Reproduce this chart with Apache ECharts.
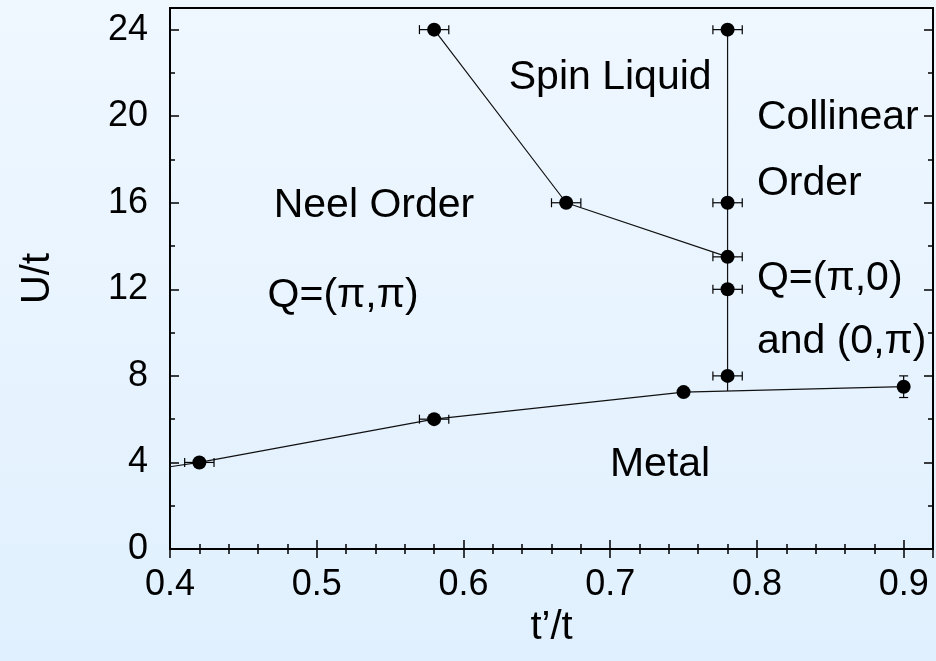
<!DOCTYPE html>
<html>
<head>
<meta charset="utf-8">
<script src="https://cdn.jsdelivr.net/npm/echarts@6/dist/echarts.min.js"></script>
<style>
  html, body { margin: 0; padding: 0; }
  #chart { width: 936px; height: 661px; }
</style>
</head>
<body>
<div id="chart"></div>
<script>
// Phase boundary points of the Hubbard model on the anisotropic lattice
const ptX  = [0.58, 0.67, 0.78, 0.78, 0.78, 0.78, 0.78, 0.42, 0.58, 0.75, 0.90];
const ptU  = [24,   16,   24,   16,   13.5, 12,   8,    4,    6,    7.25, 7.5];
const errX = [0.01, 0.01, 0.01, 0.01, 0.01, 0.01, 0.01, 0.01, 0.01, 0,    0];
const errU = [0,    0,    0,    0,    0,    0,    0,    0,    0,    0,    0.5];

// Boundary lines
const neelSpinX = [0.58, 0.67, 0.78];
const neelSpinU = [24, 16, 13.5];
const collinearX = [0.78, 0.78];
const collinearU = [24, 7.3];
const metalX = [0.40, 0.42, 0.58, 0.75, 0.90];
const metalU = [3.8, 4, 6, 7.25, 7.5];

// Phase names
const regionNames = ['Spin Liquid', 'Neel Order', 'Q=(\u03c0,\u03c0)', 'Collinear', 'Order', 'Q=(\u03c0,0)', 'and (0,\u03c0)', 'Metal'];
const regionX = [0.70, 0.539, 0.518, 0.80, 0.80, 0.80, 0.80, 0.734];
const regionU = [21.8, 15.85, 11.7, 19.95, 16.9, 12.5, 9.6, 3.9];
const regionAlign = ['center', 'center', 'center', 'left', 'left', 'left', 'left', 'center'];

const xTicks = [0.4, 0.5, 0.6, 0.7, 0.8, 0.9];
const uTicks = [0, 4, 8, 12, 16, 20, 24];

const FONT = 'Liberation Sans, Arial, Helvetica, sans-serif';
const X_MIN = 0.4, X_MAX = 0.92, U_MIN = 0, U_MAX = 25;

const zip = (xs, ys) => xs.map((x, i) => [x, ys[i]]);

function tickAxis(kind, position, interval, len, withLabels) {
  const isX = kind === 'x';
  return {
    type: 'value',
    position: position,
    min: isX ? X_MIN : U_MIN,
    max: isX ? X_MAX : U_MAX,
    interval: interval,
    axisLine: { show: false },
    axisTick: { show: true, inside: true, length: len, lineStyle: { color: '#000', width: 1.5 } },
    splitLine: { show: false },
    axisLabel: withLabels ? {
      show: true,
      color: '#000',
      fontFamily: FONT,
      fontSize: 36,
      margin: isX ? 18 : 22,
      showMaxLabel: false,
      formatter: v => {
        const ticks = isX ? xTicks : uTicks;
        const hit = ticks.find(t => Math.abs(t - v) < 1e-6);
        return hit === undefined ? '' : (isX ? hit.toFixed(1) : String(hit));
      }
    } : { show: false }
  };
}

const xAxes = [
  tickAxis('x', 'bottom', 0.1, 9, true),
  tickAxis('x', 'bottom', 0.02, 5, false),
  tickAxis('x', 'top', 0.1, 9, false),
  tickAxis('x', 'top', 0.02, 5, false)
];
Object.assign(xAxes[0], {
  name: 't\u2019/t', nameLocation: 'middle', nameGap: 57,
  nameTextStyle: { color: '#000', fontFamily: FONT, fontSize: 40 }
});

const yAxes = [
  tickAxis('y', 'left', 4, 9, true),
  tickAxis('y', 'left', 2, 5, false),
  tickAxis('y', 'right', 4, 9, false),
  tickAxis('y', 'right', 2, 5, false)
];
Object.assign(yAxes[0], {
  name: 'U/t', nameLocation: 'middle', nameGap: 112,
  nameTextStyle: { color: '#000', fontFamily: FONT, fontSize: 40 }
});

function boundary(xs, ys) {
  return {
    type: 'line',
    data: zip(xs, ys),
    symbol: 'none',
    lineStyle: { color: '#111', width: 1.2 },
    z: 2,
    silent: true,
    animation: false
  };
}

const errorBars = {
  type: 'custom',
  data: ptX.map((x, i) => [x, ptU[i], errX[i], errU[i]]),
  z: 3,
  animation: false,
  silent: true,
  renderItem: (params, api) => {
    const x = api.value(0), y = api.value(1), ex = api.value(2), ey = api.value(3);
    const children = [];
    const style = { stroke: '#000', lineWidth: 1.2 };
    const cap = 4.5;
    if (ex > 0) {
      const a = api.coord([x - ex, y]), b = api.coord([x + ex, y]);
      children.push({ type: 'line', shape: { x1: a[0], y1: a[1], x2: b[0], y2: b[1] }, style });
      children.push({ type: 'line', shape: { x1: a[0], y1: a[1] - cap, x2: a[0], y2: a[1] + cap }, style });
      children.push({ type: 'line', shape: { x1: b[0], y1: b[1] - cap, x2: b[0], y2: b[1] + cap }, style });
    }
    if (ey > 0) {
      const a = api.coord([x, y - ey]), b = api.coord([x, y + ey]);
      children.push({ type: 'line', shape: { x1: a[0], y1: a[1], x2: b[0], y2: b[1] }, style });
      children.push({ type: 'line', shape: { x1: a[0] - cap, y1: a[1], x2: a[0] + cap, y2: a[1] }, style });
      children.push({ type: 'line', shape: { x1: b[0] - cap, y1: b[1], x2: b[0] + cap, y2: b[1] }, style });
    }
    return { type: 'group', children };
  }
};

const points = {
  type: 'scatter',
  data: zip(ptX, ptU),
  symbol: 'circle',
  symbolSize: 14,
  itemStyle: { color: '#000', opacity: 1 },
  z: 4,
  animation: false,
  silent: true
};

const regionLabels = {
  type: 'scatter',
  data: regionNames.map((name, i) => ({
    value: [regionX[i], regionU[i]],
    label: { formatter: name, align: regionAlign[i] }
  })),
  symbolSize: 1,
  itemStyle: { color: 'rgba(0,0,0,0)', opacity: 1 },
  label: {
    show: true,
    position: 'inside',
    verticalAlign: 'middle',
    color: '#000',
    opacity: 1,
    fontFamily: FONT,
    fontSize: 41
  },
  z: 5,
  animation: false,
  silent: true
};

const chart = echarts.init(document.getElementById('chart'), null, { renderer: 'canvas' });
chart.setOption({
  animation: false,
  backgroundColor: {
    type: 'linear', x: 0, y: 0, x2: 0, y2: 1,
    colorStops: [{ offset: 0, color: '#eff7ff' }, { offset: 1, color: '#e0f0fe' }]
  },
  grid: {
    left: 170, right: 3, top: 8, bottom: 112,
    show: true, borderColor: '#000', borderWidth: 2, backgroundColor: 'transparent'
  },
  xAxis: xAxes,
  yAxis: yAxes,
  series: [
    boundary(neelSpinX, neelSpinU),
    boundary(collinearX, collinearU),
    boundary(metalX, metalU),
    errorBars,
    points,
    regionLabels
  ]
});
</script>
</body>
</html>
